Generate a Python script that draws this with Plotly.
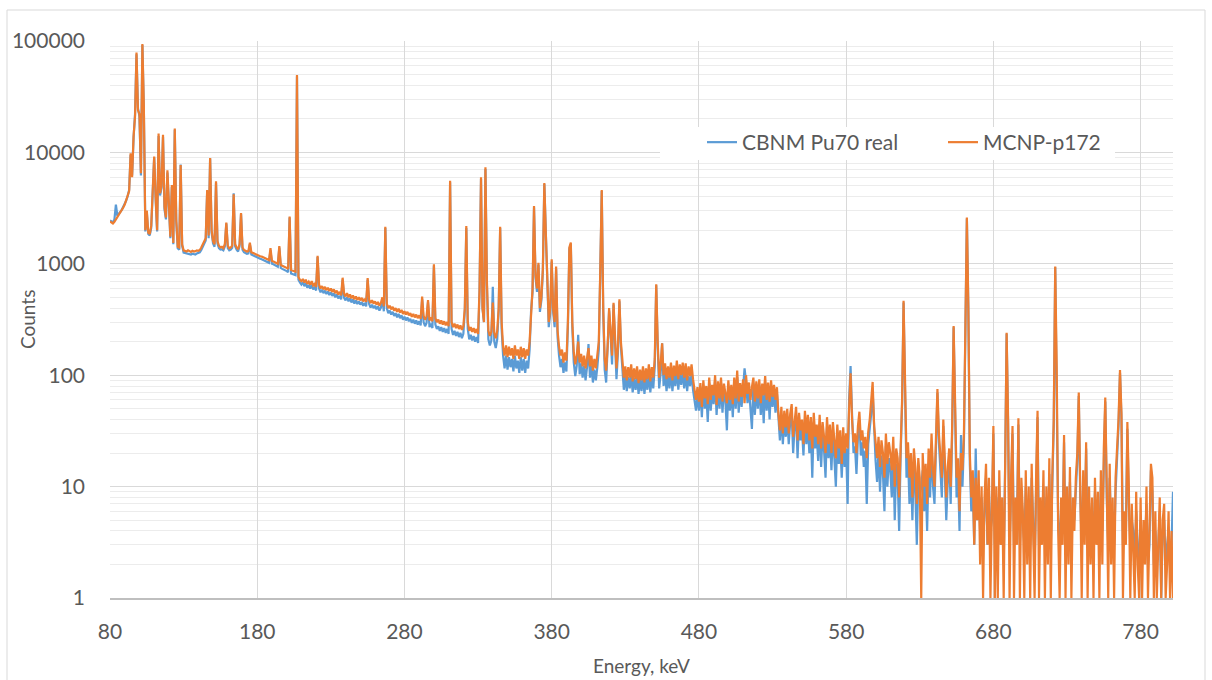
import plotly.graph_objects as go

# Energy channels (keV), 1 keV bins
energy_kev = list(range(80, 803))

counts_real = [
    2450, 2400, 2350, 2500, 3400, 2700, 2800, 2900, 3050, 3250,   # 80
    3450, 3700, 4050, 4600, 9500, 6200, 13500, 22000, 76000, 25000,   # 90
    21000, 6200, 92000, 24000, 1950, 2900, 1850, 1800, 2100, 5300,   # 100
    9000, 3800, 1950, 14000, 4100, 4800, 13800, 3100, 2500, 6600,   # 110
    2900, 1700, 4900, 1500, 16000, 2400, 1380, 1340, 7800, 1450,   # 120
    1260, 1250, 1230, 1240, 1220, 1210, 1230, 1220, 1210, 1240,   # 130
    1250, 1270, 1330, 1420, 1520, 1620, 4500, 1700, 8800, 1900,   # 140
    1520, 1420, 5300, 1520, 1380, 1340, 1350, 1320, 1430, 2300,   # 150
    1380, 1320, 1340, 1390, 4300, 1440, 1340, 1290, 1440, 2800,   # 160
    1340, 1270, 1250, 1230, 1240, 1500, 1210, 1190, 1180, 1160,   # 170
    1140, 1130, 1110, 1100, 1080, 1070, 1050, 1040, 1020, 1320,   # 180
    1000, 990, 970, 950, 940, 1400, 920, 900, 890, 870,   # 190
    860, 840, 2600, 820, 810, 800, 790, 48000, 720, 680,   # 200
    650, 680, 630, 670, 610, 645, 600, 650, 590, 615,   # 210
    575, 1150, 600, 555, 585, 545, 575, 535, 565, 525,   # 220
    555, 515, 545, 500, 530, 490, 515, 480, 720, 495,   # 230
    470, 500, 460, 490, 450, 480, 440, 470, 435, 460,   # 240
    430, 455, 420, 445, 415, 720, 435, 405, 430, 400,   # 250
    420, 390, 415, 380, 405, 470, 375, 2100, 400, 360,   # 260
    380, 350, 370, 340, 360, 330, 355, 325, 345, 315,   # 270
    335, 310, 330, 305, 320, 295, 315, 290, 310, 285,   # 280
    305, 280, 480, 300, 275, 295, 450, 270, 290, 265,   # 290
    960, 285, 260, 275, 250, 270, 245, 265, 240, 260,   # 300
    235, 5400, 260, 230, 250, 225, 245, 220, 240, 215,   # 310
    235, 380, 2100, 260, 210, 230, 205, 225, 200, 220,   # 320
    195, 560, 5800, 400, 300, 7100, 650, 210, 185, 205,   # 330
    623, 200, 175, 210, 380, 2100, 260, 150, 115, 150,   # 340
    112, 145, 118, 140, 108, 150, 115, 135, 105, 145,   # 350
    110, 140, 105, 135, 115, 170, 380, 560, 3200, 760,   # 360
    560, 980, 370, 470, 850, 5200, 1850, 850, 270, 360,   # 370
    1050, 370, 270, 900, 220, 150, 118, 140, 105, 130,   # 380
    108, 270, 1350, 1500, 270, 130, 98, 122, 230, 102,   # 390
    128, 95, 122, 90, 118, 190, 95, 122, 86, 112,   # 400
    90, 118, 170, 850, 4500, 370, 112, 86, 160, 380,   # 410
    230, 125, 430, 180, 92, 160, 460, 180, 102, 74,   # 420
    98, 72, 96, 76, 102, 70, 94, 74, 98, 68,   # 430
    92, 72, 98, 68, 94, 74, 102, 70, 96, 76,   # 440
    120, 640, 180, 76, 104, 193, 80, 106, 72, 98,   # 450
    76, 108, 72, 100, 80, 112, 74, 102, 82, 108,   # 460
    76, 106, 72, 98, 80, 104, 74, 56, 48, 66,   # 470
    48, 74, 42, 80, 50, 70, 38, 84, 48, 72,   # 480
    55, 90, 44, 78, 50, 85, 46, 74, 58, 32,   # 490
    80, 48, 72, 42, 84, 50, 96, 46, 75, 52,   # 500
    82, 115, 88, 56, 76, 46, 33, 84, 44, 78,   # 510
    50, 82, 44, 72, 37, 86, 48, 76, 40, 80,   # 520
    52, 72, 46, 68, 36, 26, 44, 24, 40, 28,   # 530
    42, 24, 38, 46, 20, 35, 44, 18, 38, 26,   # 540
    33, 19, 40, 24, 36, 20, 34, 12, 38, 22,   # 550
    29, 17, 36, 15, 30, 21, 12, 34, 18, 28,   # 560
    14, 30, 18, 10, 28, 16, 24, 12, 26, 15,   # 570
    22, 7, 60, 121, 45, 20, 23, 13, 28, 40,   # 580
    19, 25, 15, 21, 7, 24, 33, 45, 72, 28,   # 590
    17, 11, 21, 9, 19, 13, 6, 23, 10, 18,   # 600
    14, 8, 21, 5, 16, 12, 4, 19, 55, 450,   # 610
    55, 12, 19, 7, 14, 5, 16, 9, 3, 12,   # 620
    8, 10, 14, 6, 11, 4, 16, 8, 24, 10,   # 630
    7, 19, 70, 25, 13, 8, 35, 15, 5, 11,   # 640
    17, 7, 30, 270, 35, 8, 13, 4, 29, 10,   # 650
    25, 290, 2550, 380, 16, 6, 10, 3, 22, 5,   # 660
    10, 4, 8, 3, 6, 12, 3, 9, 4, 5,   # 670
    30, 3, 8, 4, 10, 3, 6, 2, 16, 235,   # 680
    35, 3, 9, 30, 3, 6, 4, 36, 3, 9,   # 690
    5, 3, 10, 4, 7, 3, 12, 5, 2, 9,   # 700
    42, 3, 6, 4, 10, 3, 8, 4, 13, 3,   # 710
    9, 35, 930, 110, 5, 3, 6, 4, 25, 3,   # 720
    8, 4, 11, 3, 6, 5, 9, 17, 65, 8,   # 730
    3, 10, 4, 22, 3, 7, 4, 6, 3, 9,   # 740
    4, 7, 3, 10, 4, 18, 58, 8, 3, 12,   # 750
    4, 6, 3, 9, 16, 35, 105, 40, 3, 5,   # 760
    4, 33, 7, 3, 5, 4, 2, 6, 3, 2,   # 770
    5, 2, 4, 3, 7, 2, 3, 14, 9, 2,   # 780
    4, 2, 3, 6, 1, 4, 5, 2, 3, 4,   # 790
    2, 3, 9,   # 800
]

# Simulated spectrum (MCNP-p172), counts per channel
counts_mcnp = [
    2400, 2350, 2300, 2380, 2500, 2600, 2700, 2850, 3000, 3200,   # 80
    3400, 3700, 4000, 4500, 9800, 6000, 13900, 21000, 78600, 24000,   # 90
    22000, 6500, 94000, 25600, 2000, 3000, 1900, 1850, 2200, 5500,   # 100
    9200, 4000, 2000, 14800, 4300, 5000, 14400, 3250, 2600, 6900,   # 110
    3000, 1750, 5100, 1540, 16400, 2500, 1420, 1400, 7700, 1500,   # 120
    1320, 1310, 1290, 1320, 1300, 1280, 1310, 1290, 1300, 1320,   # 130
    1310, 1330, 1400, 1500, 1600, 1700, 4600, 1800, 8900, 2000,   # 140
    1600, 1500, 5500, 1600, 1450, 1400, 1420, 1380, 1500, 2340,   # 150
    1450, 1380, 1400, 1450, 4200, 1500, 1400, 1350, 1500, 2860,   # 160
    1400, 1330, 1310, 1290, 1300, 1550, 1270, 1250, 1240, 1220,   # 170
    1200, 1190, 1170, 1160, 1140, 1130, 1110, 1100, 1080, 1380,   # 180
    1060, 1050, 1030, 1010, 1000, 1440, 980, 960, 950, 930,   # 190
    920, 900, 2650, 880, 870, 860, 850, 49500, 760, 720,   # 200
    700, 730, 680, 720, 660, 690, 650, 700, 640, 660,   # 210
    620, 1180, 650, 600, 630, 590, 620, 580, 610, 570,   # 220
    600, 560, 590, 545, 575, 530, 560, 520, 750, 540,   # 230
    510, 545, 500, 530, 490, 520, 480, 510, 475, 500,   # 240
    470, 495, 460, 485, 455, 745, 475, 445, 470, 440,   # 250
    460, 430, 455, 420, 445, 500, 415, 2150, 440, 400,   # 260
    420, 390, 410, 380, 400, 370, 395, 365, 385, 355,   # 270
    375, 350, 370, 345, 360, 335, 355, 330, 350, 325,   # 280
    345, 320, 507, 340, 315, 335, 473, 310, 330, 305,   # 290
    990, 325, 300, 315, 290, 310, 285, 305, 280, 300,   # 300
    275, 5570, 300, 270, 290, 265, 285, 260, 280, 255,   # 310
    275, 400, 2180, 300, 250, 270, 245, 265, 240, 260,   # 320
    235, 600, 5970, 400, 300, 7350, 700, 250, 225, 245,   # 330
    450, 240, 215, 250, 400, 2150, 300, 180, 150, 185,   # 340
    145, 180, 150, 175, 140, 185, 150, 170, 140, 180,   # 350
    145, 175, 140, 170, 150, 200, 400, 600, 3300, 800,   # 360
    600, 1020, 400, 500, 900, 5300, 1900, 900, 300, 400,   # 370
    1100, 400, 300, 945, 250, 180, 150, 170, 130, 160,   # 380
    135, 300, 1400, 1550, 300, 160, 125, 150, 200, 130,   # 390
    155, 120, 150, 115, 145, 175, 120, 150, 110, 140,   # 400
    115, 145, 200, 900, 4600, 400, 140, 110, 180, 400,   # 410
    250, 150, 446, 200, 115, 180, 480, 200, 130, 95,   # 420
    120, 90, 118, 95, 125, 88, 115, 92, 120, 85,   # 430
    112, 90, 120, 86, 115, 92, 125, 88, 118, 95,   # 440
    140, 655, 200, 95, 125, 193, 100, 128, 92, 120,   # 450
    95, 130, 90, 122, 98, 135, 92, 125, 100, 130,   # 460
    95, 128, 90, 120, 98, 125, 92, 70, 60, 78,   # 470
    58, 85, 52, 90, 62, 80, 55, 95, 60, 82,   # 480
    66, 100, 54, 88, 62, 95, 58, 84, 70, 56,   # 490
    90, 60, 82, 55, 95, 62, 110, 58, 85, 64,   # 500
    92, 56, 100, 68, 86, 60, 78, 95, 58, 88,   # 510
    62, 92, 56, 84, 66, 98, 60, 86, 58, 90,   # 520
    64, 82, 60, 78, 45, 32, 52, 30, 48, 34,   # 530
    50, 30, 45, 55, 28, 42, 52, 26, 46, 32,   # 540
    40, 24, 48, 30, 44, 26, 42, 22, 46, 28,   # 550
    36, 24, 44, 22, 38, 28, 20, 42, 24, 36,   # 560
    20, 38, 24, 18, 36, 22, 32, 16, 34, 20,   # 570
    30, 22, 50, 104, 40, 25, 30, 20, 35, 47,   # 580
    26, 32, 22, 28, 18, 31, 40, 55, 87, 35,   # 590
    24, 18, 28, 15, 26, 20, 12, 30, 16, 25,   # 600
    20, 14, 28, 10, 22, 18, 8, 25, 60, 466,   # 610
    60, 18, 25, 12, 20, 8, 22, 15, 7, 18,   # 620
    12, 1, 20, 10, 16, 7, 22, 12, 30, 14,   # 630
    10, 25, 75, 30, 18, 12, 40, 20, 8, 15,   # 640
    22, 10, 35, 277, 40, 12, 18, 6, 20, 14,   # 650
    30, 300, 2600, 400, 20, 8, 14, 3, 12, 5,   # 660
    14, 2, 10, 1, 8, 16, 3, 12, 1, 6,   # 670
    35, 1, 10, 1, 14, 3, 8, 1, 20, 240,   # 680
    40, 1, 12, 35, 1, 8, 3, 41, 1, 12,   # 690
    6, 1, 14, 2, 10, 1, 16, 4, 1, 12,   # 700
    48, 1, 8, 3, 14, 1, 10, 2, 18, 1,   # 710
    12, 40, 944, 120, 4, 1, 8, 3, 29, 1,   # 720
    10, 2, 15, 1, 8, 4, 12, 20, 70, 10,   # 730
    1, 14, 3, 25, 1, 10, 2, 8, 1, 12,   # 740
    3, 9, 1, 14, 2, 22, 63, 10, 1, 16,   # 750
    2, 8, 1, 12, 20, 40, 111, 45, 1, 6,   # 760
    3, 38, 10, 1, 7, 3, 1, 9, 2, 1,   # 770
    8, 1, 5, 2, 10, 1, 4, 16, 12, 1,   # 780
    6, 1, 3, 8, 1, 5, 7, 1, 2, 6,   # 790
    1, 4, 1,   # 800
]

assert len(counts_real) == len(energy_kev), len(counts_real)
assert len(counts_mcnp) == len(energy_kev), len(counts_mcnp)

x_ticks = [80, 180, 280, 380, 480, 580, 680, 780]
y_ticks = [1, 10, 100, 1000, 10000, 100000]
y_tick_text = ["1", "10", "100", "1000", "10000", "100000"]
y_minor = [m * d for d in [1, 10, 100, 1000, 10000] for m in range(2, 10)]

FONT = "Lato, 'Open Sans', sans-serif"
TXT = "#595959"

fig = go.Figure()
fig.add_trace(go.Scatter(x=energy_kev, y=counts_real, mode="lines",
                         name="CBNM Pu70 real",
                         line=dict(color="#5B9BD5", width=2.2)))
fig.add_trace(go.Scatter(x=energy_kev, y=counts_mcnp, mode="lines",
                         name="MCNP-p172",
                         line=dict(color="#ED7D31", width=2.2)))

L, R, T, B = 110, 39, 41, 82
W, H = 1212, 680
pw, ph = W - L - R, H - T - B

def px_x(px):
    return (px - L) / pw

def px_y(py):
    return (H - B - py) / ph

fig.update_layout(
    width=W, height=H,
    margin=dict(l=L, r=R, t=T, b=B, autoexpand=False),
    paper_bgcolor="white", plot_bgcolor="white",
    font=dict(family=FONT, color=TXT, size=21),
    showlegend=True,
    legend=dict(orientation="h", x=px_x(702), y=px_y(122),
                xanchor="left", yanchor="top", bgcolor="rgba(255,255,255,0)",
                font=dict(size=21, color=TXT), entrywidth=196),
    xaxis=dict(range=[80, 802], tickvals=x_ticks, showgrid=True,
               gridcolor="#d9d9d9", gridwidth=1, zeroline=False,
               showline=True, linecolor="#bfbfbf", linewidth=2,
               ticks="", ticklabelstandoff=14, automargin=False,
               tickfont=dict(size=21, color=TXT)),
    yaxis=dict(type="log", range=[0, 5], tickvals=y_ticks, ticktext=y_tick_text,
               showgrid=True, gridcolor="#d9d9d9", gridwidth=1, zeroline=False,
               showline=False, ticks="", ticklabelstandoff=24, automargin=False,
               tickfont=dict(size=21, color=TXT),
               minor=dict(tickvals=y_minor, showgrid=True, gridcolor="#ececec",
                          gridwidth=1, ticks="")),
    annotations=[
        dict(text="Counts", xref="paper", yref="paper", x=px_x(27), y=px_y(320),
             textangle=-90, showarrow=False, xanchor="center", yanchor="middle",
             font=dict(size=19, color=TXT)),
        dict(text="Energy, keV", xref="paper", yref="paper", x=px_x(641), y=px_y(665),
             showarrow=False, xanchor="center", yanchor="middle",
             font=dict(size=19, color=TXT)),
    ],
)

# chart-area border
fig.add_shape(type="rect", xref="paper", yref="paper",
              x0=px_x(7), x1=px_x(1205), y0=px_y(700), y1=px_y(10),
              line=dict(color="#d9d9d9", width=1), fillcolor="rgba(0,0,0,0)",
              layer="below")
# white legend backing box
fig.add_shape(type="rect", xref="paper", yref="paper",
              x0=px_x(660), x1=px_x(1115), y0=px_y(160), y1=px_y(127),
              line=dict(width=0), fillcolor="white", layer="above")

fig.write_html("out.html",
               config={"displayModeBar": False},
               post_script="document.body.style.margin='0';document.body.style.overflow='hidden';")
